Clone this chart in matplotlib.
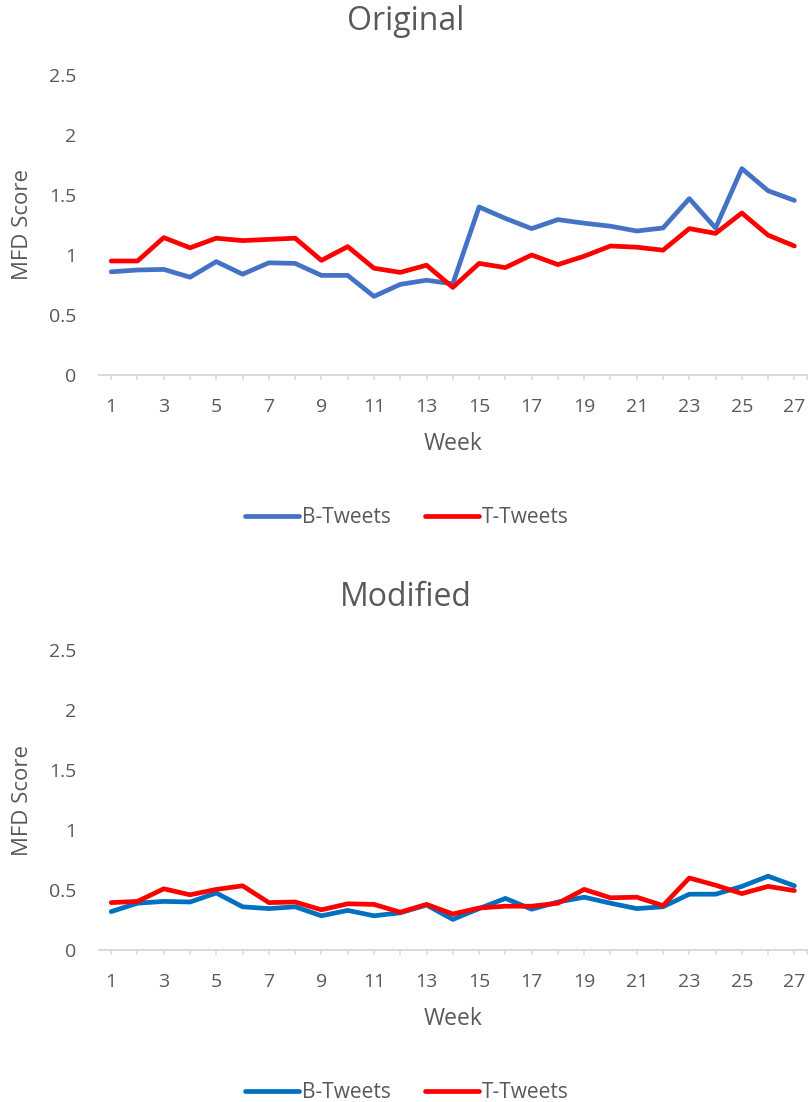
import matplotlib
matplotlib.use("Agg")
import matplotlib.pyplot as plt
from matplotlib.lines import Line2D

plt.rcParams['font.family'] = ['Open Sans', 'DejaVu Sans']

weeks = list(range(1, 28))

orig_b = [0.86, 0.875, 0.88, 0.815, 0.945, 0.84, 0.935, 0.93, 0.83, 0.83,
          0.655, 0.755, 0.79, 0.76, 1.40, 1.305, 1.22, 1.295, 1.265, 1.24,
          1.20, 1.225, 1.47, 1.225, 1.72, 1.535, 1.455]
orig_t = [0.95, 0.95, 1.145, 1.06, 1.14, 1.12, 1.13, 1.14, 0.955, 1.07,
          0.89, 0.855, 0.915, 0.73, 0.93, 0.895, 1.00, 0.92, 0.99, 1.075,
          1.065, 1.04, 1.22, 1.18, 1.35, 1.165, 1.075]

mod_b = [0.32, 0.39, 0.405, 0.40, 0.475, 0.36, 0.345, 0.36, 0.285, 0.33,
         0.285, 0.31, 0.375, 0.255, 0.345, 0.43, 0.34, 0.40, 0.44, 0.39,
         0.345, 0.36, 0.465, 0.465, 0.53, 0.615, 0.535]
mod_t = [0.395, 0.405, 0.51, 0.46, 0.505, 0.535, 0.395, 0.40, 0.335, 0.385,
         0.38, 0.315, 0.38, 0.30, 0.35, 0.365, 0.365, 0.39, 0.505, 0.435,
         0.44, 0.37, 0.60, 0.54, 0.47, 0.53, 0.495]

y_ticks = [0, 0.5, 1, 1.5, 2, 2.5]
y_tick_labels = ["0", "0.5", "1", "1.5", "2", "2.5"]

TEXT = "#595959"
AXIS = "#D9D9D9"
RED = "#FF0000"

W, H = 811, 1102
fig = plt.figure(figsize=(W / 100, H / 100), dpi=100)


def panel(top_px, title, b_vals, t_vals, b_color):
    left_px, right_px = 98.6, 807.0
    width_px = right_px - left_px
    bottom_px = top_px + 300
    ax = fig.add_axes([left_px / W, 1 - bottom_px / H, width_px / W, 300 / H])
    ax.plot(weeks, b_vals, color=b_color, lw=3.4, solid_capstyle='round',
            solid_joinstyle='round', label="B-Tweets")
    ax.plot(weeks, t_vals, color=RED, lw=3.4, solid_capstyle='round',
            solid_joinstyle='round', label="T-Tweets")
    ax.set_xlim(0.52, 27.48)
    ax.set_ylim(0, 2.5)
    for s in ['top', 'right', 'left']:
        ax.spines[s].set_visible(False)
    ax.spines['bottom'].set_color(AXIS)
    ax.spines['bottom'].set_linewidth(1.4)
    ax.set_xticks(weeks + [27.48])
    ax.set_xticklabels([str(w) if w % 2 == 1 else "" for w in weeks] + [""])
    ax.tick_params(axis='x', length=3.8, width=1.1, color=AXIS,
                   labelsize=14, labelcolor=TEXT, pad=12.5)
    ax.set_yticks(y_ticks)
    ax.set_yticklabels(y_tick_labels)
    ax.tick_params(axis='y', length=0, labelsize=14, labelcolor=TEXT, pad=16)
    ax.set_xlabel("Week", fontsize=16.5, color=TEXT, labelpad=12)
    ax.set_ylabel("MFD Score", fontsize=16, color=TEXT)
    ax.yaxis.set_label_coords((33 - left_px) / width_px, 0.5)
    fig.text(0.5, 1 - (top_px - 53) / H, title, ha='center', va='center',
             fontsize=23, color=TEXT)
    handles = [Line2D([], [], color=b_color, lw=3.4, solid_capstyle='round'),
               Line2D([], [], color=RED, lw=3.4, solid_capstyle='round')]
    fig.legend(handles, ["B-Tweets", "T-Tweets"], loc='center',
               bbox_to_anchor=(407 / W, 1 - (bottom_px + 142.5) / H),
               ncol=2, frameon=False, fontsize=15, labelcolor=TEXT,
               handlelength=2.6, handletextpad=0.15, columnspacing=1.6)
    return ax


panel(75, "Original", orig_b, orig_t, "#4472C4")
panel(650, "Modified", mod_b, mod_t, "#0070C0")

fig.savefig("out.png", dpi=100)
